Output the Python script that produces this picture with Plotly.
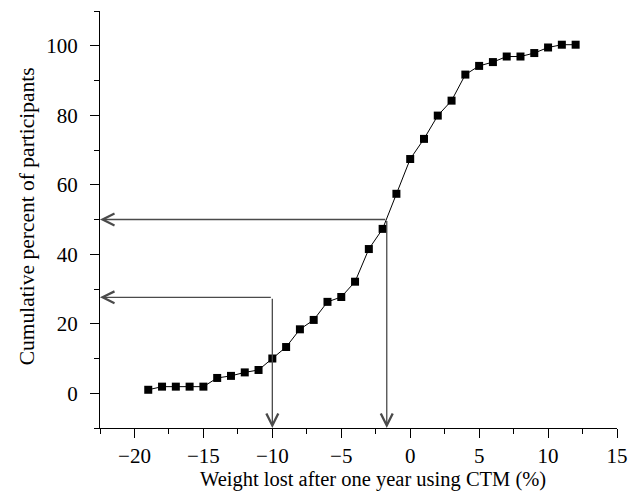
import plotly.graph_objects as go

# Data
weight_lost = [-19, -18, -17, -16, -15, -14, -13, -12, -11, -10, -9, -8, -7, -6, -5, -4,
               -3, -2, -1, 0, 1, 2, 3, 4, 5, 6, 7, 8, 9, 10, 11, 12]
cum_percent = [1.0, 1.9, 1.9, 1.9, 1.9, 4.4, 5.0, 6.0, 6.7, 10.0, 13.3, 18.4, 21.1, 26.3, 27.7, 32.1,
               41.5, 47.3, 57.4, 67.4, 73.2, 79.9, 84.2, 91.7, 94.2, 95.3, 96.9, 96.9, 97.9, 99.5, 100.3, 100.3]

# Reference-line readings (percentile level -> weight lost)
guide_levels = [50.0, 27.6]
guide_x = [-1.7, -10.0]

x_range = [-22.5, 15]
y_range = [-10, 110]
x_ticks = [-20, -15, -10, -5, 0, 5, 10, 15]
y_ticks = [0, 20, 40, 60, 80, 100]

x_title = "Weight lost after one year using CTM (%)"
y_title = "Cumulative percent of participants"

font_family = "Liberation Serif"
arrow_color = "#4a4a4a"

fig = go.Figure()
fig.add_trace(go.Scatter(
    x=weight_lost, y=cum_percent, mode="lines+markers",
    line=dict(color="black", width=1),
    marker=dict(symbol="square", size=8, color="black"),
    showlegend=False, cliponaxis=False,
))

annotations = []
for lvl, gx in zip(guide_levels, guide_x):
    annotations.append(dict(
        x=x_range[0], y=lvl, ax=gx, ay=lvl, xref="x", yref="y", axref="x", ayref="y",
        showarrow=True, arrowhead=5, arrowsize=1.8, arrowwidth=1.3, arrowcolor=arrow_color,
        standoff=0, startstandoff=0, text="",
    ))
    annotations.append(dict(
        x=gx, y=y_range[0], ax=gx, ay=lvl, xref="x", yref="y", axref="x", ayref="y",
        showarrow=True, arrowhead=5, arrowsize=1.8, arrowwidth=1.3, arrowcolor=arrow_color,
        standoff=0, startstandoff=0, text="",
    ))

# axis titles as annotations (placed like the reference)
annotations.append(dict(
    text=x_title, xref="paper", yref="paper", x=0.528, y=-0.124,
    xanchor="center", yanchor="middle", showarrow=False,
    font=dict(family=font_family, size=20.5, color="black"),
))
annotations.append(dict(
    text=y_title, xref="paper", yref="paper", x=-0.141, y=0.508, textangle=-90,
    xanchor="center", yanchor="middle", showarrow=False,
    font=dict(family=font_family, size=21.5, color="black"),
))

tick_minus = lambda v: ("\u2212" + str(abs(v))) if v < 0 else str(v)

fig.update_layout(
    width=640, height=496,
    margin=dict(l=100, r=23, t=11, b=68),
    paper_bgcolor="white", plot_bgcolor="white",
    font=dict(family=font_family, size=21, color="black"),
    annotations=annotations,
    xaxis=dict(
        range=x_range, tickvals=x_ticks, ticktext=[tick_minus(v) for v in x_ticks],
        showline=True, linecolor="black", linewidth=1.3, mirror=False,
        ticks="outside", ticklen=9, tickwidth=1.3, tickcolor="black",
        minor=dict(dtick=2.5, tick0=0, ticks="outside", ticklen=5, tickwidth=1.2, tickcolor="black"),
        showgrid=False, zeroline=False, ticklabelstandoff=0,
    ),
    yaxis=dict(
        range=y_range, tickvals=y_ticks, ticktext=[str(v) for v in y_ticks],
        showline=True, linecolor="black", linewidth=1.3, mirror=False,
        ticks="outside", ticklen=9, tickwidth=1.3, tickcolor="black",
        minor=dict(dtick=10, tick0=0, ticks="outside", ticklen=5, tickwidth=1.2, tickcolor="black"),
        showgrid=False, zeroline=False, ticklabelstandoff=8,
    ),
)

fig.write_html("out.html")
